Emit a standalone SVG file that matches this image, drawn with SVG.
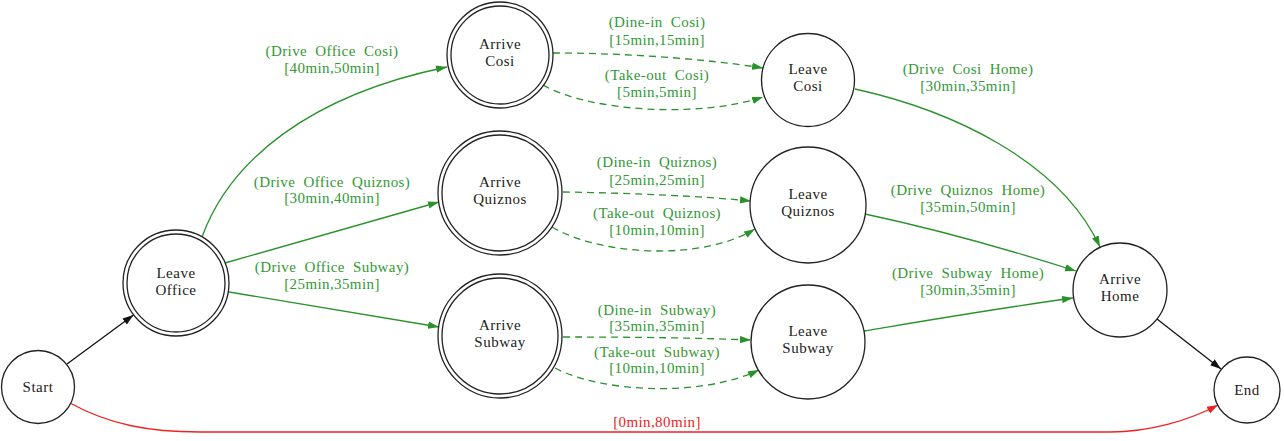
<svg xmlns="http://www.w3.org/2000/svg" width="1284" height="441" viewBox="0 0 1284 441">
<style>
.n{fill:#fff;stroke:#222;stroke-width:1.3}
.t{font-family:"Liberation Serif","Times New Roman",serif;font-size:15px;fill:#222;text-anchor:middle;letter-spacing:0.5px}
.l{font-family:"Liberation Serif","Times New Roman",serif;font-size:15px;fill:#339933;text-anchor:middle;letter-spacing:0.4px;word-spacing:4px}
.lr{font-family:"Liberation Serif","Times New Roman",serif;font-size:15px;fill:#ee2222;text-anchor:middle;letter-spacing:0.4px}
.g{fill:none;stroke:#2a922a;stroke-width:1.3}
.gd{fill:none;stroke:#2a922a;stroke-width:1.3;stroke-dasharray:7,5}
.k{fill:none;stroke:#111;stroke-width:1.3}
.r{fill:none;stroke:#ee2222;stroke-width:1.3}
</style>
<defs>
<marker id="ag" markerUnits="userSpaceOnUse" markerWidth="12" markerHeight="8" refX="11" refY="4" orient="auto"><path d="M0,0.3 L11,4 L0,7.7 z" fill="#2a922a"/></marker>
<marker id="ak" markerUnits="userSpaceOnUse" markerWidth="12" markerHeight="8" refX="11" refY="4" orient="auto"><path d="M0,0.3 L11,4 L0,7.7 z" fill="#111"/></marker>
<marker id="ar" markerUnits="userSpaceOnUse" markerWidth="12" markerHeight="8" refX="11" refY="4" orient="auto"><path d="M0,0.3 L11,4 L0,7.7 z" fill="#ee2222"/></marker>
</defs>
<rect width="1284" height="441" fill="#fff"/>
<g id="connectors">
<path class="k" d="M67,364 L133.5,315" marker-end="url(#ak)"/>
<path class="r" d="M70,403 C110,425 150,432 200,432 L1110,432 C1150,432 1190,420 1218,405" marker-end="url(#ar)"/>
<path class="g" d="M202,237 C230,160 310,95 447,67" marker-end="url(#ag)"/>
<path class="g" d="M225,263 L439,202" marker-end="url(#ag)"/>
<path class="g" d="M229,292 L439,327" marker-end="url(#ag)"/>
<path class="gd" d="M553,53 C620,53 700,58 763,68" marker-end="url(#ag)"/>
<path class="gd" d="M543,85 C590,112 700,118 763,97" marker-end="url(#ag)"/>
<path class="gd" d="M563,192 C630,193 700,196 751,201" marker-end="url(#ag)"/>
<path class="gd" d="M552,227 C600,255 700,262 755,229" marker-end="url(#ag)"/>
<path class="gd" d="M563,337 C640,337 700,338 751,340" marker-end="url(#ag)"/>
<path class="gd" d="M555,368 C600,392 700,398 759,370" marker-end="url(#ag)"/>
<path class="g" d="M855,89 C950,110 1060,160 1100,247" marker-end="url(#ag)"/>
<path class="g" d="M865,214 C940,230 1010,250 1076,271" marker-end="url(#ag)"/>
<path class="g" d="M864,331 C930,320 1000,308 1073,298" marker-end="url(#ag)"/>
<path class="k" d="M1157,319 L1221,369" marker-end="url(#ak)"/>
</g>
<g id="edge-labels">
<text class="l" x="332" y="56">(Drive Office Cosi)</text>
<text class="l" x="332" y="73">[40min,50min]</text>
<text class="l" x="332" y="187">(Drive Office Quiznos)</text>
<text class="l" x="332" y="203">[30min,40min]</text>
<text class="l" x="332" y="272">(Drive Office Subway)</text>
<text class="l" x="332" y="289">[25min,35min]</text>
<text class="l" x="657" y="27">(Dine-in Cosi)</text>
<text class="l" x="657" y="45">[15min,15min]</text>
<text class="l" x="657" y="80">(Take-out Cosi)</text>
<text class="l" x="657" y="97">[5min,5min]</text>
<text class="l" x="657" y="167">(Dine-in Quiznos)</text>
<text class="l" x="657" y="185">[25min,25min]</text>
<text class="l" x="657" y="218">(Take-out Quiznos)</text>
<text class="l" x="657" y="235">[10min,10min]</text>
<text class="l" x="657" y="315">(Dine-in Subway)</text>
<text class="l" x="657" y="331">[35min,35min]</text>
<text class="l" x="657" y="357">(Take-out Subway)</text>
<text class="l" x="657" y="373">[10min,10min]</text>
<text class="l" x="968" y="74">(Drive Cosi Home)</text>
<text class="l" x="968" y="91">[30min,35min]</text>
<text class="l" x="968" y="195">(Drive Quiznos Home)</text>
<text class="l" x="968" y="212">[35min,50min]</text>
<text class="l" x="968" y="278">(Drive Subway Home)</text>
<text class="l" x="968" y="295">[30min,35min]</text>
<text class="lr" x="657" y="427">[0min,80min]</text>
</g>
<g id="start"><circle class="n" cx="38" cy="387" r="36.5"/><text class="t" x="38" y="392">Start</text></g>
<g id="leave-office"><circle class="n" cx="176" cy="283" r="53"/><circle class="n" cx="176" cy="283" r="49"/><text class="t" x="176" y="278">Leave</text><text class="t" x="176" y="295">Office</text></g>
<g id="arrive-cosi"><circle class="n" cx="500" cy="55" r="53"/><circle class="n" cx="500" cy="55" r="49"/><text class="t" x="500" y="49">Arrive</text><text class="t" x="500" y="66">Cosi</text></g>
<g id="arrive-quiznos"><circle class="n" cx="500" cy="193" r="62"/><circle class="n" cx="500" cy="193" r="58"/><text class="t" x="500" y="187">Arrive</text><text class="t" x="500" y="204">Quiznos</text></g>
<g id="arrive-subway"><circle class="n" cx="500" cy="336" r="62"/><circle class="n" cx="500" cy="336" r="58"/><text class="t" x="500" y="330">Arrive</text><text class="t" x="500" y="347">Subway</text></g>
<g id="leave-cosi"><circle class="n" cx="808" cy="80" r="46.5"/><text class="t" x="808" y="74">Leave</text><text class="t" x="808" y="91">Cosi</text></g>
<g id="leave-quiznos"><circle class="n" cx="808" cy="205" r="58"/><text class="t" x="808" y="199">Leave</text><text class="t" x="808" y="216">Quiznos</text></g>
<g id="leave-subway"><circle class="n" cx="808" cy="342" r="57"/><text class="t" x="808" y="336">Leave</text><text class="t" x="808" y="353">Subway</text></g>
<g id="arrive-home"><circle class="n" cx="1120" cy="290" r="47"/><text class="t" x="1120" y="284">Arrive</text><text class="t" x="1120" y="301">Home</text></g>
<g id="end"><circle class="n" cx="1247" cy="390" r="33"/><text class="t" x="1247" y="395">End</text></g>
</svg>
